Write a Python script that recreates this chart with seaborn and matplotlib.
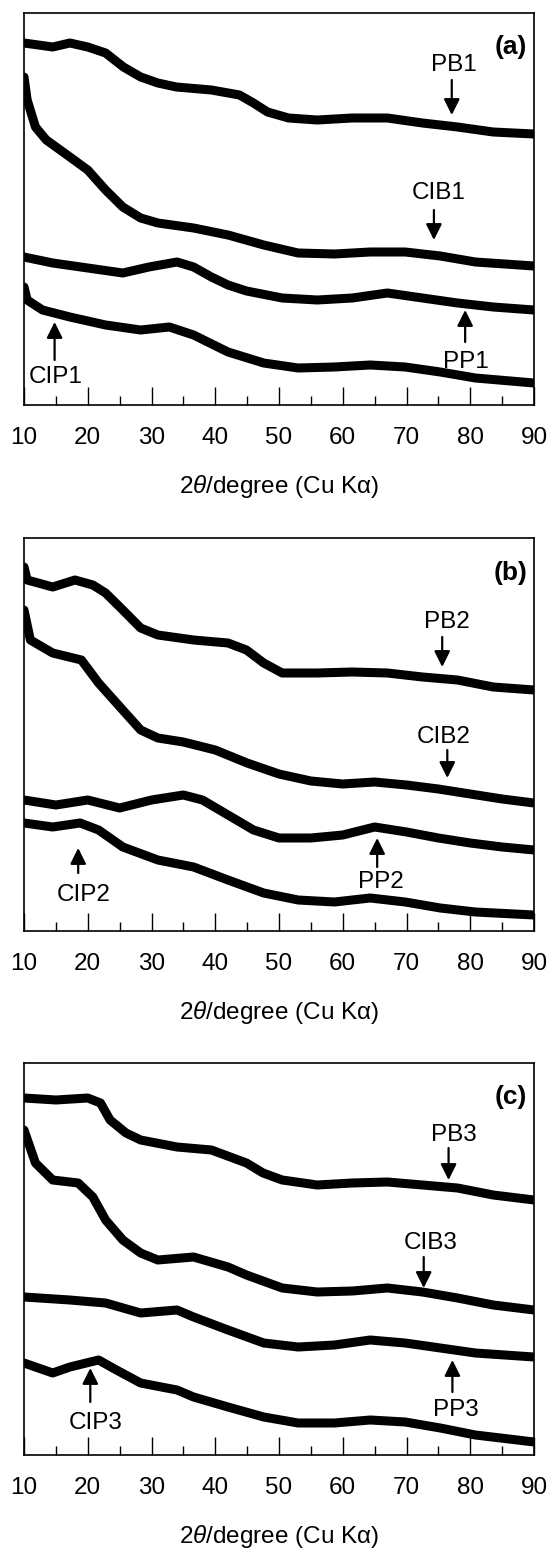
import matplotlib
matplotlib.use("Agg")
import matplotlib.pyplot as plt
import seaborn as sns
import pandas as pd

# ---------------- data (intensity in arbitrary units) ----------------
# panel (a)
PB1_x = [10, 14.5, 17.2, 20, 22.8, 25.6, 28.3, 31, 33.9, 39.4, 43.8, 46, 48.2, 51.5, 56, 61.5, 67, 72.5, 78, 83.6, 90]
PB1_y = [362, 358, 362, 358, 352, 338, 328, 322, 318, 315, 310, 302, 293, 287, 285, 287, 287, 282, 278, 273, 271]
CIB1_x = [10, 10.5, 11.8, 13.5, 17.2, 20, 22.8, 25.5, 28.3, 31, 36.6, 42, 47.6, 53, 58.7, 64.3, 69.8, 75.3, 80.8, 90]
CIB1_y = [328, 305, 278, 265, 248, 235, 215, 198, 187, 182, 177, 170, 160, 152, 151, 153, 153, 149, 143, 139]
PP1_x = [10, 14.5, 20, 25.5, 29.6, 34, 36.6, 39.4, 42, 44.9, 50.5, 56, 61.5, 67, 72.5, 78, 83.6, 90]
PP1_y = [148, 142, 137, 132, 138, 143, 138, 128, 120, 114, 107, 105, 107, 112, 107, 102, 98, 95]
CIP1_x = [10, 10.5, 12.9, 17.2, 22.8, 28.3, 32.8, 36.6, 42, 47.6, 53, 58.7, 64.3, 69.8, 75.3, 80.8, 90]
CIP1_y = [118, 105, 95, 88, 80, 75, 78, 70, 53, 42, 37, 38, 40, 38, 33, 27, 22]

# panel (b)
PB2_x = [10, 10.5, 14.5, 18, 20.8, 22.8, 25.5, 28.3, 31, 36.6, 42, 44.9, 47.6, 50.5, 56, 61.5, 67, 72.5, 78, 83.6, 90]
PB2_y = [364, 351, 344, 351, 346, 338, 321, 303, 296, 291, 288, 281, 268, 258, 258, 259, 258, 254, 251, 244, 241]
CIB2_x = [10, 11, 14.5, 19, 21.7, 24.5, 28.3, 31, 35, 40, 45, 50, 55, 60, 65, 70, 75, 80, 85, 90]
CIB2_y = [321, 291, 278, 271, 248, 228, 201, 193, 189, 181, 168, 157, 150, 147, 149, 146, 142, 137, 132, 128]
PP2_x = [10, 15, 20, 25, 30, 35, 38, 42, 46, 50, 55, 60, 65, 70, 75, 80, 85, 90]
PP2_y = [131, 126, 131, 123, 131, 136, 131, 116, 101, 93, 93, 96, 104, 99, 93, 88, 84, 81]
CIP2_x = [10, 14.5, 18.8, 21.7, 25.5, 31, 36.6, 42, 47.6, 53, 58.7, 64.3, 69.8, 75.3, 80.8, 90]
CIP2_y = [108, 104, 108, 101, 84, 71, 64, 51, 38, 31, 29, 33, 29, 23, 19, 16]

# panel (c)
PB3_x = [10, 15, 20, 22, 23.5, 26, 28.3, 34, 39.4, 44.9, 47.5, 50.5, 56, 61.5, 67, 72.5, 78, 83.6, 90]
PB3_y = [357, 355, 357, 352, 335, 322, 315, 308, 305, 292, 282, 275, 270, 272, 273, 270, 267, 260, 255]
CIB3_x = [10, 11.8, 14.5, 18.5, 20.8, 22.8, 25.5, 28.3, 31, 36.6, 42, 44.9, 50.5, 56, 61.5, 67, 72.5, 78, 83.6, 90]
CIB3_y = [325, 292, 275, 272, 258, 235, 215, 202, 195, 198, 188, 180, 167, 163, 164, 167, 163, 157, 150, 145]
PP3_x = [10, 17.2, 22.8, 28.3, 34, 36.6, 42, 47.6, 53, 58.7, 64.3, 69.8, 75.3, 80.8, 90]
PP3_y = [158, 155, 152, 142, 145, 138, 125, 112, 108, 110, 115, 112, 107, 102, 98]
CIP3_x = [10, 14.5, 17.2, 21.7, 24.5, 28.3, 34, 36.6, 42, 47.6, 53, 58.7, 64.3, 69.8, 75.3, 80.8, 90]
CIP3_y = [92, 82, 88, 95, 85, 72, 65, 58, 48, 38, 32, 32, 35, 33, 27, 20, 13]

panel_labels = ["(a)", "(b)", "(c)"]
x_ticks = [10, 20, 30, 40, 50, 60, 70, 80, 90]
x_minor = [15, 25, 35, 45, 55, 65, 75, 85]
x_label = r"2$\theta$/degree (Cu K$\mathrm{\alpha}$)"

# annotations: (label, arrow_x, head_y, tail_y, text_x, text_y)
ANN_a = [("PB1", 77.1, 290, 325, 77.5, 340),
         ("CIB1", 74.3, 165, 195, 75.0, 212),
         ("PP1", 79.2, 95, 63, 79.3, 43),
         ("CIP1", 14.8, 83, 45, 15.0, 28)]
ANN_b = [("PB2", 75.6, 264, 294, 76.4, 309),
         ("CIB2", 76.4, 153, 181, 75.9, 194),
         ("PP2", 65.4, 93, 64, 66.0, 49),
         ("CIP2", 18.5, 83, 58, 19.3, 36)]
ANN_c = [("PB3", 76.6, 275, 307, 77.5, 320),
         ("CIB3", 72.7, 167, 198, 73.8, 212),
         ("PP3", 77.2, 95, 63, 77.8, 45),
         ("CIP3", 20.4, 87, 53, 21.2, 32)]

panels = [
    [(PB1_x, PB1_y), (CIB1_x, CIB1_y), (PP1_x, PP1_y), (CIP1_x, CIP1_y)],
    [(PB2_x, PB2_y), (CIB2_x, CIB2_y), (PP2_x, PP2_y), (CIP2_x, CIP2_y)],
    [(PB3_x, PB3_y), (CIB3_x, CIB3_y), (PP3_x, PP3_y), (CIP3_x, CIP3_y)],
]
annots = [ANN_a, ANN_b, ANN_c]

# ---------------- style ----------------
sns.set_style("ticks")
plt.rcParams["font.family"] = ["Liberation Sans", "DejaVu Sans"]
plt.rcParams["mathtext.fontset"] = "custom"
plt.rcParams["mathtext.rm"] = "Liberation Sans"
plt.rcParams["mathtext.it"] = "Liberation Sans:italic"
plt.rcParams["text.color"] = "black"
plt.rcParams["axes.labelcolor"] = "black"
plt.rcParams["xtick.color"] = "black"

fig = plt.figure(figsize=(5.51, 15.51), dpi=100)
W, H = 551.0, 1551.0
boxes = [(13, 405), (538, 931), (1063, 1455)]  # top, bottom in pixels
left_px, right_px = 24, 534

FS = 17.5
for i, (top, bot) in enumerate(boxes):
    ax = fig.add_axes([left_px / W, 1 - bot / H, (right_px - left_px) / W, (bot - top) / H])
    for xs, ys in panels[i]:
        df = pd.DataFrame({"x": xs, "y": ys})
        sns.lineplot(data=df, x="x", y="y", ax=ax, color="black", linewidth=6.5,
                     estimator=None, sort=False, solid_joinstyle="round")
    ax.set_xlim(10, 90)
    ax.set_ylim(0, bot - top)
    ax.set_yticks([])
    ax.set_ylabel("")
    ax.set_xticks(x_ticks)
    ax.set_xticks(x_minor, minor=True)
    ax.tick_params(axis="x", which="major", direction="in", length=13, width=1.0,
                   labelsize=FS, pad=16, colors="black")
    ax.tick_params(axis="x", which="minor", direction="in", length=6.5, width=1.0)
    for sp in ax.spines.values():
        sp.set_linewidth(1.2)
        sp.set_color("black")
    ax.set_xlabel(x_label, fontsize=FS, labelpad=17)
    ax.text(86.3, 358, panel_labels[i], fontsize=19, fontweight="bold",
            ha="center", va="center")
    for lab, ax_x, hy, ty, tx, tyy in annots[i]:
        ax.annotate("", xy=(ax_x, hy), xytext=(ax_x, ty),
                    arrowprops=dict(arrowstyle="-|>", color="black", lw=1.6,
                                    mutation_scale=24, shrinkA=0, shrinkB=0))
        ax.text(tx, tyy, lab, fontsize=FS, ha="center", va="center")

fig.savefig("out.png", dpi=100)
